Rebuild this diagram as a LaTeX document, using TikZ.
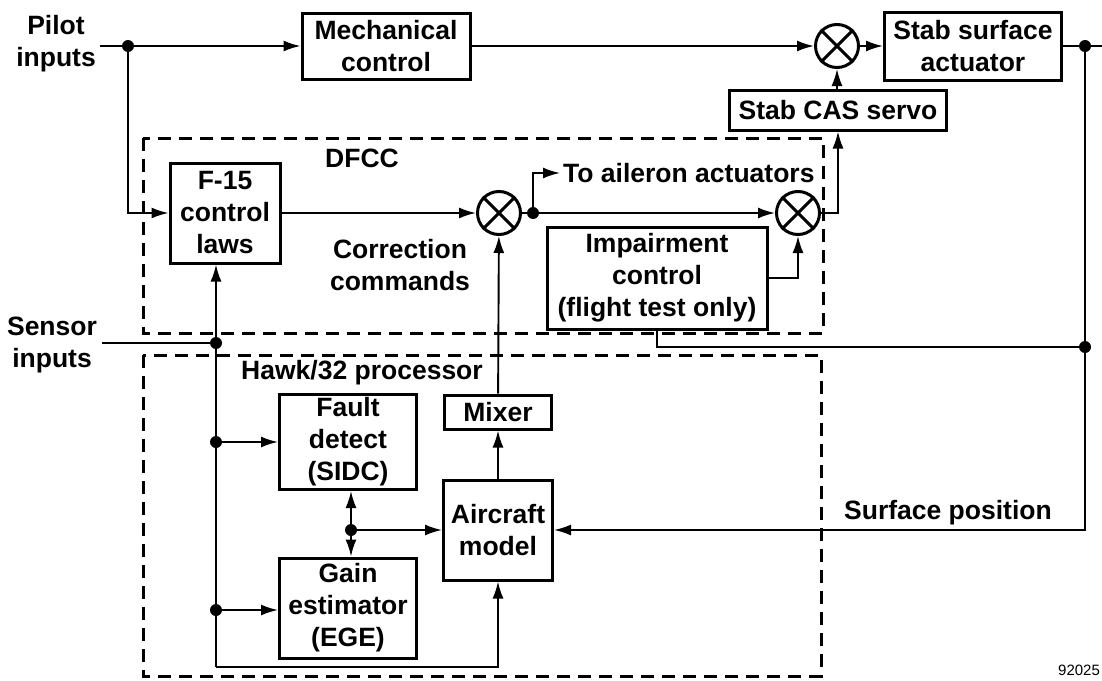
\documentclass[tikz,border=0pt]{standalone}
\usepackage{fontspec}
\setmainfont{Liberation Sans}
\usetikzlibrary{arrows.meta}

\begin{document}
\begin{tikzpicture}[x=1pt,y=-1pt,
  font=\bfseries\fontsize{26.5}{32}\selectfont,
  block/.style={draw,line width=3pt,inner sep=0pt,align=center},
  sumnode/.style={draw,circle,line width=3pt,minimum size=43pt,inner sep=0pt},
  dot/.style={circle,fill,inner sep=0pt,minimum size=12pt},
  lbl/.style={align=center,inner sep=0pt},
  wire/.style={line width=1.9pt},
  sig/.style={wire,-{Latex[length=17pt,width=11pt]}},
  frame/.style={line width=3pt,dash pattern=on 13pt off 8pt}]
\useasboundingbox (0,0) rectangle (1102,680);

% dashed units
\draw[frame] (143,138) rectangle (823,333);
\draw[frame] (143,355) rectangle (821,676);
\node[lbl] (dfcc) at (362,158) {DFCC};
\node[lbl] (hawk) at (362,373) {Hawk/32 processor};

% blocks
\node[block,minimum width=168pt,minimum height=66pt] (mech) at (386,46) {Mechanical\\control};
\node[block,minimum width=177pt,minimum height=68pt] (act) at (973,46) {Stab surface\\actuator};
\node[block,minimum width=217pt,minimum height=40pt] (cas) at (838,110) {Stab CAS servo};
\node[block,minimum width=110pt,minimum height=100pt] (f15) at (225,213) {F-15\\control\\laws};
\node[block,minimum width=220pt,minimum height=102pt] (imp) at (657,278) {Impairment\\control\\(flight test only)};
\node[block,minimum width=137pt,minimum height=95pt] (fault) at (348,442) {Fault\\detect\\(SIDC)};
\node[block,minimum width=137pt,minimum height=100pt] (gain) at (348,608) {Gain\\estimator\\(EGE)};
\node[block,minimum width=107pt,minimum height=34pt] (mixer) at (498,412) {Mixer};
\node[block,minimum width=109pt,minimum height=100pt] (acm) at (498,530) {Aircraft\\model};

% summing junctions
\node[sumnode] (sumA) at (837,46) {};
\node[sumnode] (sumB) at (499,213) {};
\node[sumnode] (sumC) at (798,213) {};
\foreach \s in {sumA,sumB,sumC}
  \draw[line width=3pt] (\s.north west) -- (\s.south east) (\s.north east) -- (\s.south west);

% branch points
\node[dot] (dP) at (128,46) {};
\node[dot] (dA) at (533,213) {};
\node[dot] (dR) at (1085,46) {};
\node[dot] (dR2) at (1085,347) {};
\node[dot] (dS) at (216,343) {};
\node[dot] (dF) at (216,442) {};
\node[dot] (dG) at (216,610) {};
\node[dot] (dM) at (351,530) {};
\coordinate (pin) at (100,46);
\coordinate (sin) at (102,343);
\coordinate (rout) at (1102,46);
\coordinate (bl) at (216,667);

% labels
\node[lbl] (pilot) at (56,44) {Pilot\\inputs};
\node[lbl] (sensor) at (52,345) {Sensor\\inputs};
\node[lbl] (corr) at (400,265) {Correction\\commands};
\node[lbl,anchor=west,inner xsep=3pt] (ail) at (560,173) {To aileron actuators};
\node[lbl] (surf) at (948,513) {Surface position};
\node[lbl,font=\fontsize{15}{18}\selectfont] (fig) at (1079,670) {92025};

% top path
\draw[wire] (pin) -- (dP);
\draw[sig] (dP) -- (mech);
\draw[sig] (dP) |- (f15.west);
\draw[sig] (mech) -- (sumA);
\draw[sig] (sumA) -- (act);
\draw[wire] (act) -- (dR) -- (rout);
\draw[sig] (sumA |- cas.north) -- (sumA.south);

% DFCC
\draw[sig] (f15) -- (sumB);
\draw[wire] (sumB) -- (dA);
\draw[sig] (dA) -- (sumC);
\draw[sig] (dA) |- (ail.west);
\draw[sig] (sumC.east) -| (cas.south);
\draw[sig] (imp.east) -| (sumC.south);
\draw[wire] (imp.south) |- (dR2);

% feedback
\draw[sig] (dR) |- (acm.east);

% Hawk/32
\draw[wire] (sin) -- (dS);
\draw[sig] (dS) -- (dS |- f15.south);
\draw[wire] (dS) -- (bl);
\draw[sig] (bl) -| (acm.south);
\draw[sig] (dF) -- (fault);
\draw[sig] (dG) -- (dG -| gain.west);
\draw[sig] (dM) -- (dM |- fault.south);
\draw[sig] (dM) -- (dM |- gain.north);
\draw[sig] (dM) -- (acm);
\draw[sig] (acm) -- (mixer);
\draw[sig] (mixer) -- (sumB);
\end{tikzpicture}
\end{document}
